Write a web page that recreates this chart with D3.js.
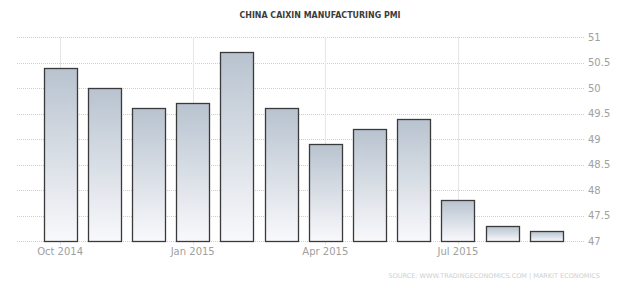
<!DOCTYPE html>
<html>
<head>
<meta charset="utf-8">
<script src="https://cdn.jsdelivr.net/npm/d3@7"></script>
<style>
  body { margin: 0; background: #fff; }
  svg { display: block; font-family: "DejaVu Sans", Verdana, sans-serif; }
</style>
</head>
<body>
<div id="chart"></div>
<script>
// data
var months = ["Oct 2014","Nov 2014","Dec 2014","Jan 2015","Feb 2015","Mar 2015",
              "Apr 2015","May 2015","Jun 2015","Jul 2015","Aug 2015","Sep 2015"];
var pmi = [50.4, 50.0, 49.6, 49.7, 50.7, 49.6, 48.9, 49.2, 49.4, 47.8, 47.3, 47.2];
var xLabels = ["Oct 2014","Jan 2015","Apr 2015","Jul 2015"];
var yTicks = [47, 47.5, 48, 48.5, 49, 49.5, 50, 50.5, 51];

var width = 640, height = 288;
var plot = {left: 17, right: 584, top: 37, bottom: 241};

var svg = d3.select("#chart").append("svg")
    .attr("width", width)
    .attr("height", height);

var defs = svg.append("defs");
var grad = defs.append("linearGradient")
    .attr("id", "barfill")
    .attr("x1", 0).attr("y1", 0).attr("x2", 0).attr("y2", 1);
grad.append("stop").attr("offset", "0%").attr("stop-color", "#b8c3cf");
grad.append("stop").attr("offset", "100%").attr("stop-color", "#f9f9fc");

var x = d3.scaleBand()
    .domain(months)
    .range([38, 568.4])
    .paddingInner(0.25)
    .paddingOuter(0.125);

var y = d3.scaleLinear()
    .domain([47, 51])
    .range([plot.bottom, plot.top]);

// horizontal grid
svg.append("g")
    .attr("class", "grid")
  .selectAll("line")
  .data(yTicks)
  .enter().append("line")
    .attr("x1", plot.left)
    .attr("x2", plot.right)
    .attr("y1", function(d) { return Math.round(y(d)) + 0.5; })
    .attr("y2", function(d) { return Math.round(y(d)) + 0.5; })
    .attr("stroke", "#cfcfcf")
    .attr("stroke-dasharray", "1,1");

// vertical grid at quarter labels
svg.append("g")
  .selectAll("line")
  .data(xLabels)
  .enter().append("line")
    .attr("x1", function(d) { return Math.round(x(d) + x.bandwidth() / 2) + 0.5; })
    .attr("x2", function(d) { return Math.round(x(d) + x.bandwidth() / 2) + 0.5; })
    .attr("y1", plot.top)
    .attr("y2", plot.bottom + 4)
    .attr("stroke", "#e6e6e6");

// y labels on the right
svg.append("g")
  .selectAll("text")
  .data(yTicks)
  .enter().append("text")
    .attr("x", 588)
    .attr("y", function(d) { return y(d) + 3.5; })
    .attr("font-size", 10)
    .attr("fill", "#a0a0a0")
    .text(function(d) { return d; });

// bars
svg.append("g")
  .selectAll("rect")
  .data(pmi)
  .enter().append("rect")
    .attr("x", function(d, i) { return Math.round(x(months[i])) + 0.5; })
    .attr("y", function(d) { return Math.round(y(d)) + 0.5; })
    .attr("width", Math.round(x.bandwidth()))
    .attr("height", function(d) { return Math.round(y(47)) - Math.round(y(d)); })
    .attr("fill", "url(#barfill)")
    .attr("stroke", "#3a3a3a")
    .attr("stroke-width", 1.3);

// x labels
svg.append("g")
  .selectAll("text")
  .data(xLabels)
  .enter().append("text")
    .attr("x", function(d) { return x(d) + x.bandwidth() / 2; })
    .attr("y", 255)
    .attr("text-anchor", "middle")
    .attr("font-size", 10)
    .attr("fill", "#a0a0a0")
    .text(function(d) { return d; });

// title
svg.append("text")
    .attr("x", 320)
    .attr("y", 18)
    .attr("text-anchor", "middle")
    .attr("font-size", 9.5)
    .attr("font-weight", "bold")
    .attr("fill", "#3c3c3c")
    .attr("textLength", 161)
    .attr("lengthAdjust", "spacingAndGlyphs")
    .text("CHINA CAIXIN MANUFACTURING PMI");

// source
svg.append("text")
    .attr("x", 600)
    .attr("y", 278)
    .attr("text-anchor", "end")
    .attr("font-size", 6.5)
    .attr("fill", "#cfcfcf")
    .text("SOURCE: WWW.TRADINGECONOMICS.COM | MARKIT ECONOMICS");
</script>
</body>
</html>
